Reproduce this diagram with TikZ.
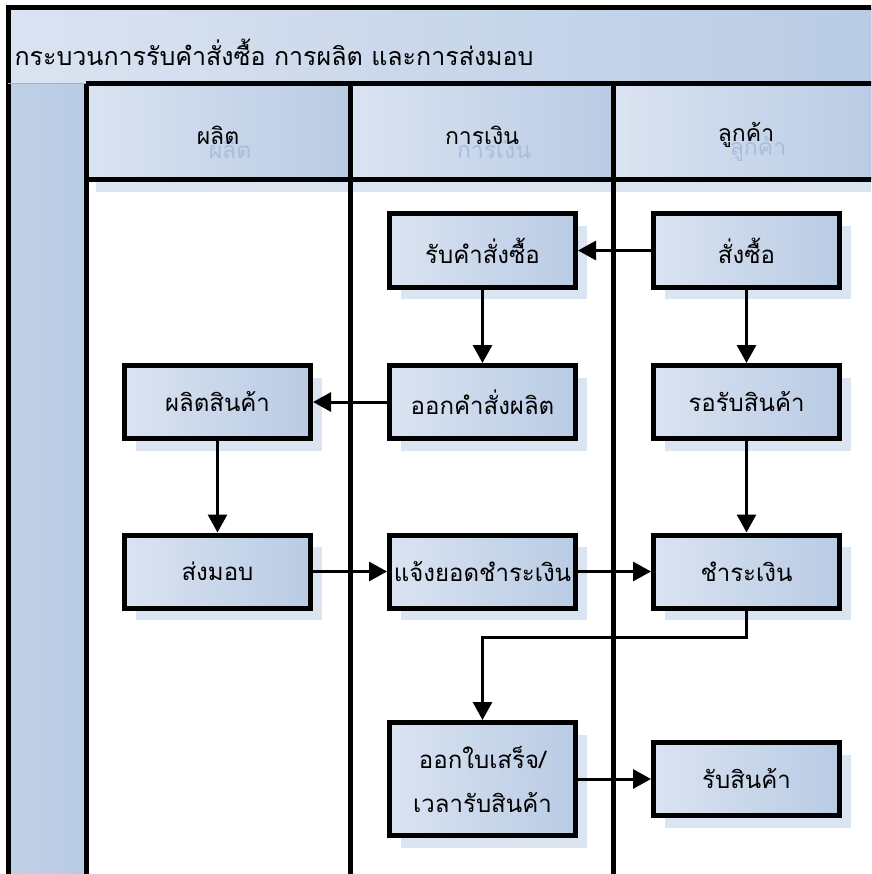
\documentclass[tikz,border=0pt]{standalone}
\usepackage{fontspec}
\newfontfamily\thaifont[Script=Thai]{Loma}
\usetikzlibrary{arrows.meta,shadows}
\definecolor{paleblue}{HTML}{DAE3F1}
\definecolor{midblue}{HTML}{B9CBE4}
\definecolor{shadeblue}{HTML}{DBE4F1}
\definecolor{ghostblue}{HTML}{A8BEDD}
\begin{document}
\begin{tikzpicture}[x=1pt, y=-1pt, >={Triangle[length=18pt,width=19pt]},
  lane/.style={line width=5pt},
  link/.style={->, line width=3pt},
  bar/.style={left color=paleblue, right color=midblue},
  taskbox/.style={draw, line width=5pt, left color=paleblue, right color=midblue,
    minimum width=186pt, minimum height=73pt, align=center,
    font=\thaifont\fontsize{24}{44}\selectfont,
    drop shadow={shadow xshift=11pt, shadow yshift=-12pt, fill=shadeblue, opacity=1}},
  lanehead/.style={font=\thaifont\fontsize{23}{28}\selectfont}]
\useasboundingbox (0,0) rectangle (871,874);
\clip (0,0) rectangle (871,874);
% pool title and left column
\fill[bar] (8,8) rectangle (880,84);
\fill[left color=midblue!80!paleblue, right color=midblue] (8,84) rectangle (86,880);
\draw[lane] (880,8) -- (8,8) -- (8,880);
\draw[gray!60, line width=1pt] (8,84) -- (86,84);
\node[anchor=west, font=\thaifont\fontsize{25}{30}\selectfont] (title) at (11,52) {กระบวนการรับคำสั่งซื้อ การผลิต และการส่งมอบ};
% lane headers
\fill[bar] (86,84) rectangle (350,180);
\fill[bar] (350,84) rectangle (613,180);
\fill[bar] (613,84) rectangle (880,180);
\fill[shadeblue, opacity=.7] (352,96) rectangle (362,192);
\fill[shadeblue, opacity=.7] (616,96) rectangle (626,192);
\fill[shadeblue] (96,182) rectangle (880,192);
\node[lanehead, text=ghostblue] (prodg) at (230,149) {ผลิต};
\node[lanehead, text=ghostblue] (fing) at (494,149) {การเงิน};
\node[lanehead, text=ghostblue] (custg) at (758,149) {ลูกค้า};
\node[lanehead] (prod) at (218,135) {ผลิต};
\node[lanehead] (fin) at (482,135) {การเงิน};
\node[lanehead] (cust) at (746,135) {ลูกค้า};
\draw[lane] (86,84) -- (880,84);
\draw[lane] (86,180) -- (880,180);
\draw[lane] (86,84) -- (86,880);
\draw[lane] (350,84) -- (350,880);
\draw[lane] (613,84) -- (613,880);
% tasks
\node[taskbox] (order) at (746.5,250.5) {สั่งซื้อ};
\node[taskbox] (recv) at (482.5,250.5) {รับคำสั่งซื้อ};
\node[taskbox] (issue) at (482.5,402) {ออกคำสั่งผลิต};
\node[taskbox] (make) at (217.5,402) {ผลิตสินค้า};
\node[taskbox] (wait) at (746.5,402) {รอรับสินค้า};
\node[taskbox] (deliver) at (217.5,571.5) {ส่งมอบ};
\node[taskbox] (notify) at (482.5,571.5) {แจ้งยอดชำระเงิน};
\node[taskbox] (pay) at (746.5,571.5) {ชำระเงิน};
\node[taskbox, minimum height=113pt] (receipt) at (482.5,779) {ออกใบเสร็จ/\\เวลารับสินค้า};
\node[taskbox] (getgoods) at (746.5,779) {รับสินค้า};
% flow
\draw[link] (order) -- (recv);
\draw[link] (recv) -- (issue);
\draw[link] (order) -- (wait);
\draw[link] (issue) -- (make);
\draw[link] (make) -- (deliver);
\draw[link] (wait) -- (pay);
\draw[link] (deliver) -- (notify);
\draw[link] (notify) -- (pay);
\draw[link] (pay.south) -- ++(0,27) -| (receipt.north);
\draw[link] (receipt) -- (getgoods);
\end{tikzpicture}
\end{document}
